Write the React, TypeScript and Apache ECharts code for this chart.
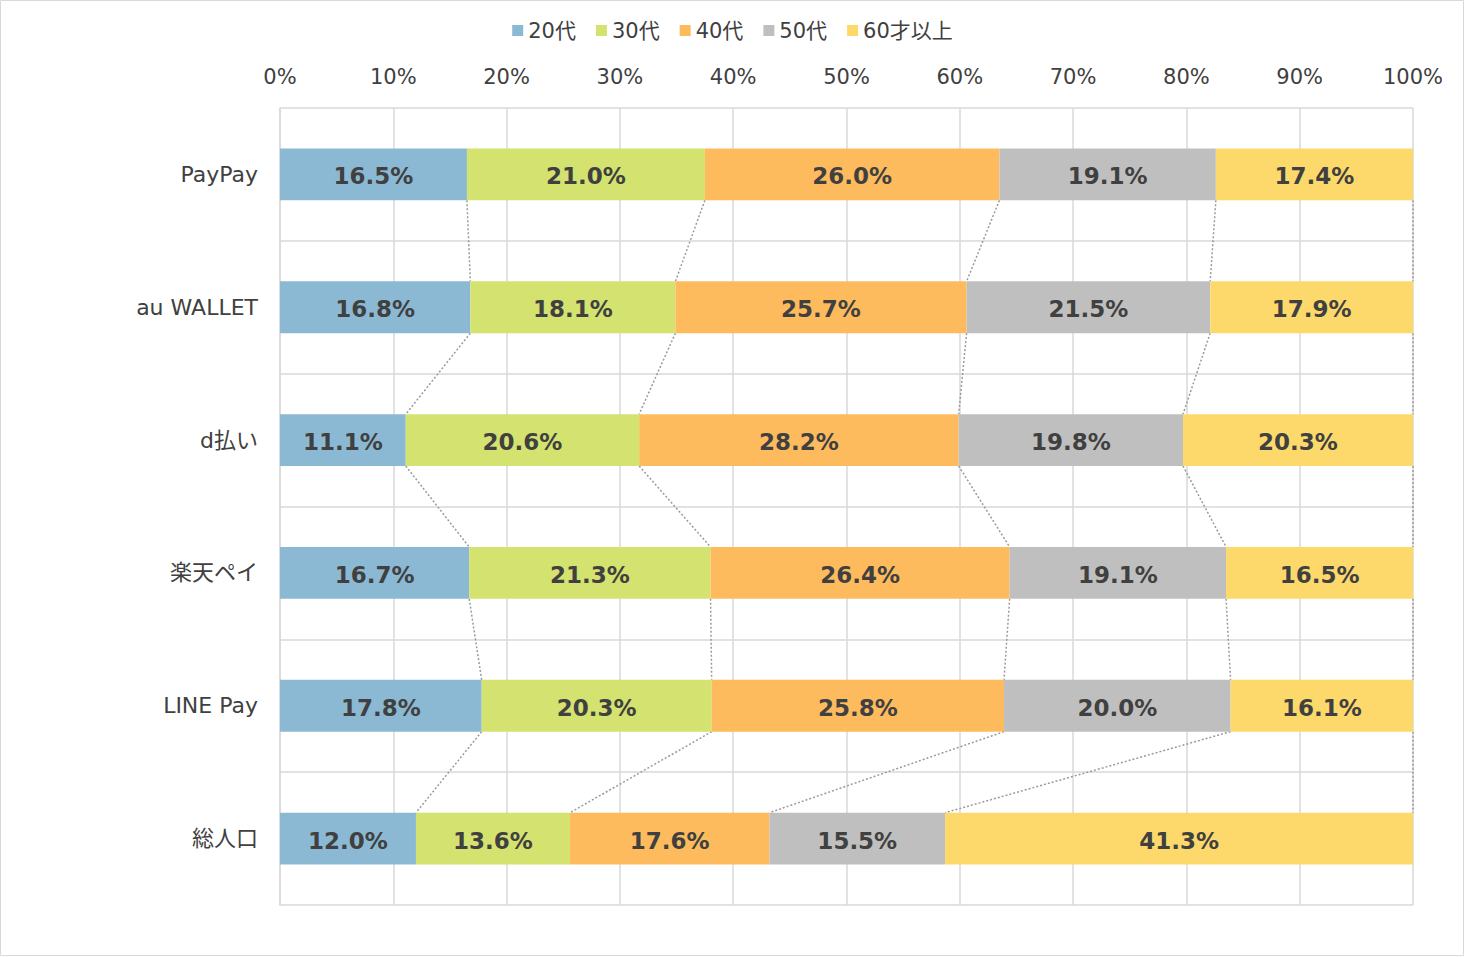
import React, { useEffect, useRef } from "react";
import * as echarts from "echarts";

const categories = ["PayPay", "au WALLET", "d払い", "楽天ペイ", "LINE Pay", "総人口"];
const seriesNames = ["20代", "30代", "40代", "50代", "60才以上"];
const v20 = [16.5, 16.8, 11.1, 16.7, 17.8, 12.0];
const v30 = [21.0, 18.1, 20.6, 21.3, 20.3, 13.6];
const v40 = [26.0, 25.7, 28.2, 26.4, 25.8, 17.6];
const v50 = [19.1, 21.5, 19.8, 19.1, 20.0, 15.5];
const v60 = [17.4, 17.9, 20.3, 16.5, 16.1, 41.3];
const colors = ["#8BB9D4", "#D4E26F", "#FDBB5E", "#BFBFBF", "#FDD96C"];

const FONT = "'DejaVu Sans', 'Noto Sans CJK JP', sans-serif";
const BAR_RATIO = 0.39;

export default function App() {
  const ref = useRef<HTMLDivElement>(null);
  useEffect(() => {
    if (!ref.current) return;
    const chart = echarts.init(ref.current, undefined, { renderer: "svg" });
    const all = [v20, v30, v40, v50, v60];
    const cum: number[][] = [];
    all.forEach((arr, s) => {
      cum.push(arr.map((v, i) => (s === 0 ? v : cum[s - 1][i] + v)));
    });
    const lineData: number[][] = [];
    cum.forEach((arr) => {
      for (let i = 0; i < arr.length - 1; i++) {
        lineData.push([arr[i], i, arr[i + 1], i + 1]);
      }
    });

    const barSeries = all.map((arr, s) => ({
      name: seriesNames[s],
      type: "bar",
      stack: "total",
      barWidth: BAR_RATIO * 100 + "%",
      data: arr,
      itemStyle: { color: colors[s] },
      label: {
        show: true,
        position: "inside",
        offset: [0, 2],
        formatter: (p: any) => Number(p.value).toFixed(1) + "%",
        fontFamily: FONT,
        fontWeight: "bold",
        fontSize: 23,
        color: "#404040",
      },
      z: 3,
    }));

    chart.setOption({
      animation: false,
      color: colors,
      graphic: [
        {
          type: "rect",
          shape: { x: 0.5, y: 0.5, width: 1463, height: 955 },
          style: { fill: "none", stroke: "#D9D9D9", lineWidth: 1 },
          silent: true,
        },
      ],
      legend: {
        top: 15,
        left: "center",
        itemWidth: 11,
        itemHeight: 11,
        itemGap: 20,
        icon: "rect",
        textStyle: { fontFamily: FONT, fontSize: 21, color: "#404040" },
        data: seriesNames,
      },
      grid: { left: 280, right: 52, top: 108, bottom: 52, containLabel: false },
      xAxis: {
        type: "value",
        position: "top",
        min: 0,
        max: 100,
        interval: 10,
        axisLabel: {
          formatter: "{value}%",
          fontFamily: FONT,
          fontSize: 21,
          color: "#404040",
          margin: 21,
        },
        axisLine: { show: false },
        axisTick: { show: false },
        splitLine: { show: true, lineStyle: { color: "#D9D9D9", width: 1.5 } },
      },
      yAxis: {
        type: "category",
        inverse: true,
        data: categories,
        axisLabel: { fontFamily: FONT, fontSize: 22, color: "#404040", margin: 22 },
        axisLine: { show: true, lineStyle: { color: "#D9D9D9", width: 1.5 } },
        axisTick: { show: false },
        splitLine: { show: true, lineStyle: { color: "#D9D9D9", width: 1.5 } },
      },
      series: [
        ...barSeries,
        {
          type: "custom",
          name: "series-lines",
          silent: true,
          z: 2,
          renderItem: (params: any, api: any) => {
            const a = api.coord([api.value(0), api.value(1)]);
            const b = api.coord([api.value(2), api.value(3)]);
            const band = api.size([0, 1])[1];
            const half = (band * BAR_RATIO) / 2;
            return {
              type: "line",
              shape: { x1: a[0], y1: a[1] + half, x2: b[0], y2: b[1] - half },
              style: { stroke: "#9A9A9A", lineWidth: 1.5, lineDash: [2, 2], fill: null },
            };
          },
          data: lineData,
          encode: { x: [0, 2], y: [1, 3] },
        },
      ],
    });
    return () => chart.dispose();
  }, []);
  return (
    <div
      ref={ref}
      style={{ position: "fixed", left: 0, top: 0, width: 1465, height: 957, background: "#fff" }}
    />
  );
}
